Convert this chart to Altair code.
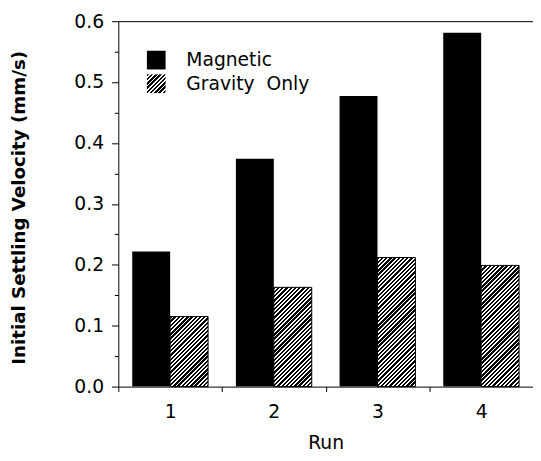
import altair as alt
import pandas as pd

# ---- data ----
runs = ["1", "2", "3", "4"]
magnetic = [0.222, 0.374, 0.477, 0.581]
gravity = [0.115, 0.163, 0.212, 0.199]
series = ["Magnetic", "Gravity Only"]
y_ticks = [0.0, 0.05, 0.1, 0.15, 0.2, 0.25, 0.3, 0.35, 0.4, 0.45, 0.5, 0.55, 0.6]

rows = []
for r, m, g in zip(runs, magnetic, gravity):
    rows.append({"Run": r, "series": series[0], "v": m})
    rows.append({"Run": r, "series": series[1], "v": g})
df = pd.DataFrame(rows)

# ---- layout / style ----
W, H = 421, 371
Y_MAX = 0.6
PAD_OUT = 0.367
FONT = "DejaVu Sans"
band = W / len(runs)
bar_w = band / (len(series) + 2 * PAD_OUT)
PERIOD = 4.3   # hatch period (px, horizontal)
INK = 0.55     # fraction of the period that is black


def stripe_stops(w, h):
    dt = w * PERIOD / (w * w + h * h)
    tmax = min(1.0, w * (w + h) / (w * w + h * h) + dt)
    stops = []
    t = 0.0
    while t < tmax:
        b = min(t + INK * dt, 1.0)
        c = min(t + dt, 1.0)
        stops += [(t, "black"), (b, "black"), (b, "white"), (c, "white")]
        t += dt
    return stops


def hatch_gradient(w, h):
    return alt.LinearGradient(
        gradient="linear", x1=0, y1=0, x2=1, y2=h / w,
        stops=[alt.GradientStop(offset=round(o, 5), color=c) for o, c in stripe_stops(w, h)],
    )


def hatch_expr(w, h):
    parts = ",".join("{offset:%.5f,color:'%s'}" % (o, c) for o, c in stripe_stops(w, h))
    return "{gradient:'linear',x1:0,y1:0,x2:1,y2:%.5f,stops:[%s]}" % (h / w, parts)


SW = 19  # legend swatch side

x_bottom = alt.X(
    "Run:N", sort=runs,
    scale=alt.Scale(paddingInner=0, paddingOuter=0),
    axis=alt.Axis(
        title="Run", tickBand="extent", labelAngle=0, tickSize=5,
        labelPadding=11, labelFontSize=19, labelFont=FONT, labelColor="black",
        titleFontSize=19, titleFont=FONT, titleFontWeight="normal", titleColor="black",
        titlePadding=13, domainColor="black", tickColor="black",
    ),
)
x_top = alt.X(
    "Run:N", sort=runs,
    axis=alt.Axis(orient="top", title=None, labels=False, ticks=False,
                  domainColor="black"),
)
x_none = alt.X("Run:N", sort=runs, axis=None)

x_off = alt.XOffset("series:N", scale=alt.Scale(domain=series, paddingInner=0, paddingOuter=PAD_OUT))

y_enc = alt.Y(
    "v:Q",
    scale=alt.Scale(domain=[0, Y_MAX], nice=False, zero=True),
    axis=alt.Axis(
        title="Initial Settling Velocity (mm/s)",
        values=y_ticks,
        labelExpr="round(datum.value*20) % 2 == 1 ? '' : format(datum.value, '.1f')",
        tickSize={"condition": {"test": "round(datum.value*20) % 2 == 1", "value": 4}, "value": 7},
        labelPadding=8, labelFontSize=19, labelFont=FONT, labelColor="black",
        titleFontSize=18.5, titleFont=FONT, titleFontWeight="bold", titleColor="black",
        titleX=-101, titleY=189, titleBaseline="middle", titleAngle=270,
        domainColor="black", tickColor="black", grid=False,
    ),
)

mag_layer = alt.Chart(df).transform_filter(
    alt.datum.series == series[0]
).mark_bar().encode(
    x=x_bottom,
    xOffset=x_off,
    y=y_enc,
    fill=alt.Fill(
        "series:N",
        scale=alt.Scale(domain=series, range=["black", alt.ExprRef(expr=hatch_expr(SW, SW))]),
        legend=alt.Legend(
            title=None, orient="none", legendX=29, legendY=30, padding=0,
            symbolType="square", symbolSize=SW * SW, symbolStrokeWidth=0,
            symbolOpacity=1, labelFontSize=19, labelFont=FONT, labelColor="black",
            labelOffset=21, rowPadding=4,
            labelExpr="replace(datum.label, ' ', '\u00a0\u00a0')",
        ),
    ),
)

grav_layers = []
for i, (r, g) in enumerate(zip(runs, gravity)):
    h = g / Y_MAX * H
    layer = alt.Chart(df).transform_filter(
        (alt.datum.series == series[1]) & (alt.datum.Run == r)
    ).mark_bar(
        fill=hatch_gradient(bar_w, h), stroke="black", strokeWidth=1
    ).encode(
        x=x_top if i == 0 else x_none,
        xOffset=x_off,
        y=y_enc,
    )
    grav_layers.append(layer)

chart = alt.layer(mag_layer, *grav_layers).resolve_axis(
    x="independent"
).properties(
    width=W, height=H,
    autosize=alt.AutoSizeParams(type="none"),
    padding={"left": 112, "top": 10, "right": 0, "bottom": 64},
    background="white",
).configure_view(stroke=None)

chart.save("out.html", embed_options={"renderer": "svg", "actions": False})
